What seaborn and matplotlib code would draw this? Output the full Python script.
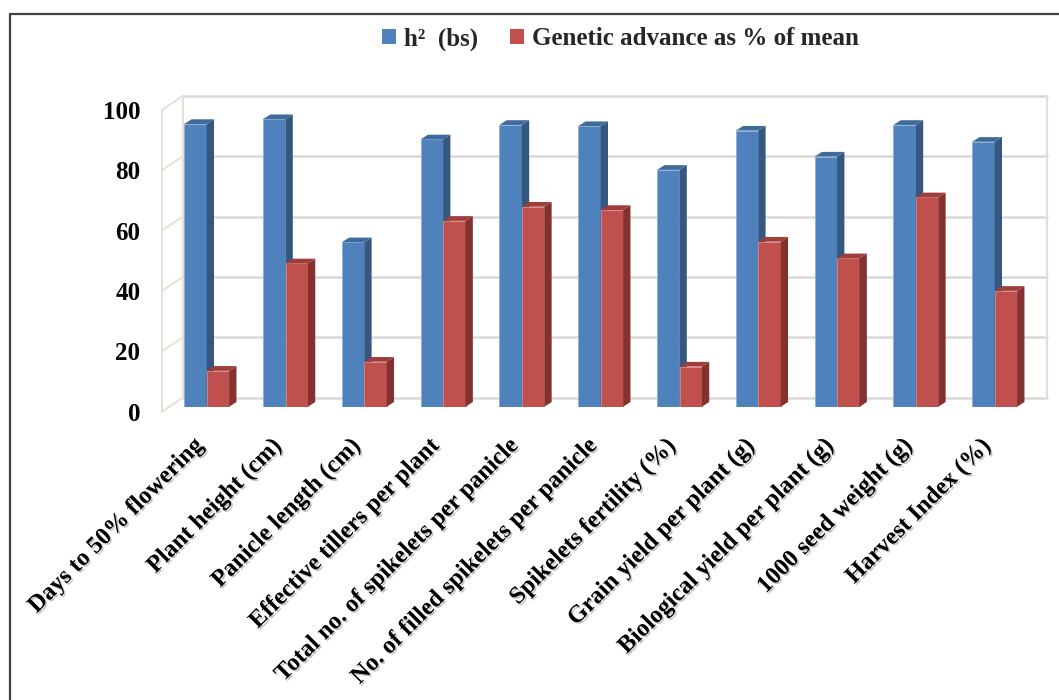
import numpy as np
import pandas as pd
import matplotlib
matplotlib.use("Agg")
import matplotlib.pyplot as plt
import matplotlib.transforms as mtransforms
import matplotlib.patheffects as pe
from matplotlib.patches import Polygon, Patch
from matplotlib.lines import Line2D
import seaborn as sns

# ---- data ----
traits = [
    "Days to 50% flowering",
    "Plant height (cm)",
    "Panicle length (cm)",
    "Effective tillers per plant",
    "Total no. of spikelets per panicle",
    "No. of filled spikelets per panicle",
    "Spikelets fertility (%)",
    "Grain yield per plant (g)",
    "Biological yield per plant (g)",
    "1000 seed weight (g)",
    "Harvest Index (%)",
]
heritability = [93.7, 95.3, 54.5, 88.6, 93.4, 93.0, 78.5, 91.5, 82.9, 93.4, 87.8]
genetic_advance = [11.9, 47.5, 14.9, 61.6, 66.3, 65.2, 13.3, 54.7, 49.2, 69.4, 38.4]
series_names = ["h\u00b2  (bs)", "Genetic advance as % of mean"]
yticks = [0, 20, 40, 60, 80, 100]

blue, red = "#4F81BD", "#C0504D"
blue_side, red_side = "#36577F", "#843230"
blue_top, red_top = "#3F6A9C", "#9E3D3A"

df = pd.DataFrame({
    "trait": traits * 2,
    "value": heritability + genetic_advance,
    "series": [series_names[0]] * len(traits) + [series_names[1]] * len(traits),
})

sns.set_theme(style="white")
plt.rcParams["font.family"] = ["Liberation Serif", "DejaVu Serif"]
plt.rcParams["font.weight"] = "bold"

W, H, DPI = 1059, 700, 100
fig = plt.figure(figsize=(W / DPI, H / DPI), dpi=DPI)

# plane of the bar fronts (pixels)
x_lo, x_hi = -0.57, 10.40
step_px = 78.8
left_px = 206.7 + x_lo * step_px
width_px = (x_hi - x_lo) * step_px
bottom_px, height_px = 700 - 406.7, 301.7
ax = fig.add_axes([left_px / W, bottom_px / H, width_px / W, height_px / H])

sns.barplot(data=df, x="trait", y="value", hue="series", order=traits,
            hue_order=series_names, palette=[blue, red], width=0.57, gap=0,
            saturation=1, legend=False, ax=ax)
ax.set_xlim(x_lo, x_hi)
ax.set_ylim(0, 100)

ux = 1.0 / step_px           # data units per pixel (x)
uy = 100.0 / height_px       # data units per pixel (y)

# depth of each bar
bdx, bdy = 7.3 * ux, 4.7 * uy
# front and back planes of the wall box, relative to the bar plane
fdx, fdy = 0.0, -5 * uy
wdx, wdy = 21 * ux, 9 * uy

wall_col = "#E2E0D2"
grid_col = "#D9D9D9"

# back wall grid lines and edges, left side wall
for v in yticks:
    ax.add_line(Line2D([x_lo + wdx, x_hi + wdx], [v + wdy, v + wdy], color=grid_col,
                       lw=1.8, zorder=0.5, clip_on=False))
    ax.add_line(Line2D([x_lo + fdx, x_lo + wdx], [v + fdy, v + wdy], color=wall_col,
                       lw=1.3, zorder=0.5, clip_on=False))
for xb in (x_lo + wdx, x_hi + wdx):
    ax.add_line(Line2D([xb, xb], [wdy, 100 + wdy], color=wall_col, lw=1.5,
                       zorder=0.5, clip_on=False))
ax.add_line(Line2D([x_lo + fdx, x_lo + fdx], [fdy, 100 + fdy], color=wall_col,
                   lw=1.3, zorder=0.5, clip_on=False))

# bar faces: front from seaborn, plus side and top faces
bars = list(ax.patches)
n = len(traits)
for i, p in enumerate(bars):
    is_blue = i < n
    z = 2 if is_blue else 3
    p.set_zorder(z)
    p.set_edgecolor("#8FB0D8" if is_blue else "#D88A88")
    p.set_linewidth(0.6)
    x0, w, h = p.get_x(), p.get_width(), p.get_height()
    x1 = x0 + w
    side = Polygon([(x1, 0), (x1, h), (x1 + bdx, h + bdy), (x1 + bdx, bdy)],
                   closed=True, facecolor=blue_side if is_blue else red_side,
                   edgecolor="none", zorder=z, clip_on=False)
    top = Polygon([(x0, h), (x1, h), (x1 + bdx, h + bdy), (x0 + bdx, h + bdy)],
                  closed=True, facecolor=blue_top if is_blue else red_top,
                  edgecolor="none", zorder=z, clip_on=False)
    ax.add_patch(side)
    ax.add_patch(top)

for s in ax.spines.values():
    s.set_visible(False)
ax.set_xlabel("")
ax.set_ylabel("")
ax.set_yticks(yticks)
ax.set_yticklabels([str(v) for v in yticks])
ax.tick_params(axis="y", length=0, pad=15.5, labelsize=18, labelcolor="black")
ax.tick_params(axis="x", length=0, pad=26, labelsize=17.5, labelcolor="black")

y_off = mtransforms.ScaledTranslation(0, -5 / DPI, fig.dpi_scale_trans)
for lab in ax.get_yticklabels():
    lab.set_fontweight("bold")
    lab.set_transform(lab.get_transform() + y_off)

x_off = mtransforms.ScaledTranslation(-7 / DPI, 0, fig.dpi_scale_trans)
for lab in ax.get_xticklabels():
    lab.set_rotation(45)
    lab.set_ha("right")
    lab.set_va("center")
    lab.set_rotation_mode("anchor")
    lab.set_fontweight("bold")
    lab.set_transform(lab.get_transform() + x_off)
    lab.set_path_effects([pe.withSimplePatchShadow(offset=(1.2, -1.2),
                                                   shadow_rgbFace="#9a9a9a",
                                                   alpha=0.6)])

# legend across the top
handles = [Patch(facecolor=blue, edgecolor="none"), Patch(facecolor=red, edgecolor="none")]
fig.legend(handles, series_names, loc="center", bbox_to_anchor=(0.586, 1 - 39 / H),
           ncol=2, frameon=False, handlelength=0.55, handleheight=0.55,
           handletextpad=0.35, columnspacing=1.25,
           prop={"family": "Liberation Serif", "weight": "bold", "size": 18})

# outer frame (top and left edges)
fig.add_artist(Line2D([9.5 / W, 1.0], [1 - 13.5 / H, 1 - 13.5 / H],
                      transform=fig.transFigure, color="#404040", lw=1.6))
fig.add_artist(Line2D([9.5 / W, 9.5 / W], [0, 1 - 13.5 / H],
                      transform=fig.transFigure, color="#404040", lw=1.6))

fig.savefig("out.png", dpi=DPI, facecolor="white")
